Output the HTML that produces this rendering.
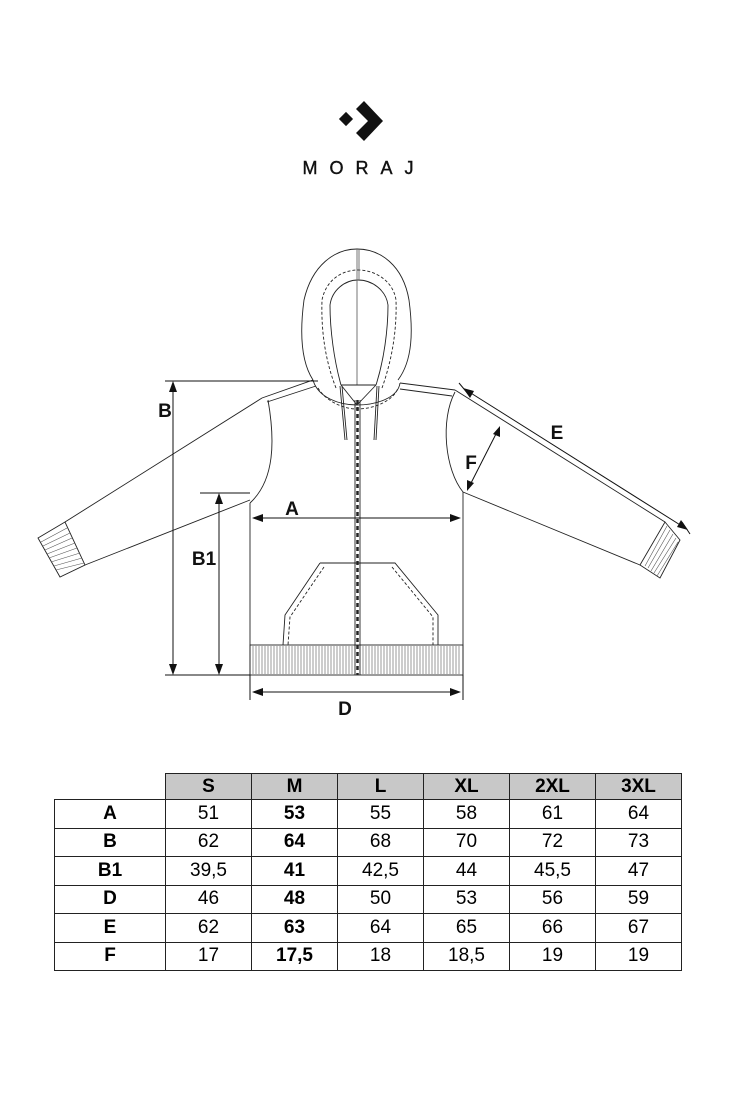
<!DOCTYPE html>
<html><head><meta charset="utf-8"><style>
html,body{margin:0;padding:0;background:#fff;}
body{width:730px;height:1095px;position:relative;font-family:"Liberation Sans",Arial,sans-serif;}
svg{position:absolute;left:0;top:0;}
table{position:absolute;left:54px;top:773px;border-collapse:collapse;font-size:19px;}
td{border:1px solid #222;text-align:center;height:27.5px;padding:0;width:85px;}
td.l{width:110px;font-weight:bold;}
tr.h td{background:#c8c8c8;font-weight:bold;height:25px;}
tr.h td.e{background:#fff;border:none;border-bottom:1px solid #222;}
td.b{font-weight:bold;}
</style></head><body>
<svg width="730" height="1095" viewBox="0 0 730 1095">
<rect x="341" y="114" width="10" height="10" transform="rotate(45 346 119)" fill="#111"/>
<polygon points="364,101 383,121 364,141 356,133 368,121 356,109" fill="#111"/>
<text x="364" y="174" text-anchor="middle" font-size="18" letter-spacing="12" font-family="Liberation Sans" fill="#111" stroke="#111" stroke-width="0.4">MORAJ</text>
<g fill="none" stroke="#222" stroke-width="0.9">
<path d="M313,380 C300,360 300,330 304,300 C312,265 335,249 357,249 C380,249 403,265 409,300 C413,330 413,360 398,380"/>
<path d="M341,385 C334,360 330,330 330,305 C332,290 345,280 358,280 C372,280 386,290 388,305 C388,330 384,360 376,385"/>
<path d="M336,388 C325,360 321,330 322,300 C326,280 342,270 358,270 C374,270 393,280 396,300 C397,330 392,360 382,388" stroke-dasharray="3,2"/>
<line x1="357" y1="249" x2="357" y2="385" stroke="#666"/>
<line x1="359" y1="249" x2="359" y2="280" stroke="#666"/>
<path d="M313,380 C318,398 340,405 357,405 C376,405 398,398 400,383"/>
<path d="M318,388 C325,400 342,409 357,409 C375,409 394,400 398,388" stroke-dasharray="3,2"/>
<line x1="341" y1="385" x2="376" y2="385"/>
<line x1="341" y1="385" x2="357" y2="405"/><line x1="376" y1="385" x2="357" y2="405"/>
<line x1="340" y1="386" x2="345" y2="440"/><line x1="342" y1="386" x2="347" y2="440"/>
<line x1="377" y1="386" x2="374" y2="440"/><line x1="379" y1="386" x2="376" y2="440"/>
<path d="M313,380 L262,398"/><path d="M316,386 L267,402"/>
<path d="M400,383 L455,390"/><path d="M400,389 L452,396"/>
<path d="M268,400 C275,440 275,480 250,503"/>
<path d="M262,398 L65,522"/>
<path d="M250,500 L85,565"/>
<polygon points="38,538 65,522 85,565 60,577"/>
<path d="M455,392 C440,420 445,470 463,492"/>
<path d="M455,390 L665,522"/>
<path d="M463,492 L640,565"/>
<polygon points="665,522 680,540 660,578 640,565"/>
<line x1="250" y1="503" x2="250" y2="675"/><line x1="463" y1="492" x2="463" y2="675"/>
<rect x="250" y="645" width="213" height="30"/>
<path d="M320,563 L285,615 L283,645"/><path d="M320,563 L395,563 L438,615 L438,645"/>
<path d="M324,567 L290,617 L288,645" stroke-dasharray="3,2"/><path d="M392,567 L433,617 L433,645" stroke-dasharray="3,2"/>
<line x1="355" y1="400" x2="355" y2="675"/><line x1="360" y1="400" x2="360" y2="675"/>
<line x1="357.5" y1="400" x2="357.5" y2="675" stroke-width="2.5" stroke-dasharray="4,3"/>
</g>
<g stroke="#555" stroke-width="0.6">
<path d="M253,646V674M256,646V674M259,646V674M262,646V674M265,646V674M268,646V674M271,646V674M274,646V674M277,646V674M280,646V674M283,646V674M286,646V674M289,646V674M292,646V674M295,646V674M298,646V674M301,646V674M304,646V674M307,646V674M310,646V674M313,646V674M316,646V674M319,646V674M322,646V674M325,646V674M328,646V674M331,646V674M334,646V674M337,646V674M340,646V674M343,646V674M346,646V674M349,646V674M352,646V674M363,646V674M366,646V674M369,646V674M372,646V674M375,646V674M378,646V674M381,646V674M384,646V674M387,646V674M390,646V674M393,646V674M396,646V674M399,646V674M402,646V674M405,646V674M408,646V674M411,646V674M414,646V674M417,646V674M420,646V674M423,646V674M426,646V674M429,646V674M432,646V674M435,646V674M438,646V674M441,646V674M444,646V674M447,646V674M450,646V674M453,646V674M456,646V674M459,646V674"/>
<path d="M41,542L67,528M43,546L70,533M45,550L72,538M47,554L75,543M49,558L77,548M51,562L80,553M54,566L82,558M56,570L84,563"/>
<path d="M667,526L645,566M670,530L648,568M673,534L651,571M676,538L654,573M678,542L657,576"/>
</g>
<g stroke="#111" stroke-width="1" fill="none">
<line x1="165" y1="381" x2="318" y2="381"/>
<line x1="165" y1="675" x2="250" y2="675"/>
<line x1="200" y1="493" x2="250" y2="493"/>
<line x1="173" y1="384" x2="173" y2="672"/>
<line x1="219" y1="496" x2="219" y2="672"/>
<line x1="255" y1="518" x2="458" y2="518"/>
<line x1="250" y1="675" x2="250" y2="700"/><line x1="463" y1="675" x2="463" y2="700"/>
<line x1="255" y1="692" x2="458" y2="692"/>
<line x1="466" y1="390" x2="685" y2="528"/>
<line x1="459" y1="383" x2="469" y2="395"/><line x1="682" y1="522" x2="690" y2="534"/>
<line x1="498" y1="430" x2="469" y2="487"/>
</g>
<g fill="#111">
<polygon points="173,381 169,392 177,392"/><polygon points="173,675 169,664 177,664"/>
<polygon points="219,493 215,504 223,504"/><polygon points="219,675 215,664 223,664"/>
<polygon points="252,518 263,514 263,522"/><polygon points="461,518 450,514 450,522"/>
<polygon points="252,692 263,688 263,696"/><polygon points="461,692 450,688 450,696"/>
<polygon points="463,388 474,391 470,398"/><polygon points="688,530 677,527 681,520"/>
<polygon points="500,426 500,437 493,434"/><polygon points="467,491 467,480 474,483"/>
</g>
<g font-family="Liberation Sans" font-weight="bold" font-size="19" fill="#111" text-anchor="middle">
<text x="165" y="417">B</text><text x="204" y="565">B1</text>
<text x="292" y="515">A</text><text x="345" y="715">D</text>
<text x="557" y="439">E</text><text x="471" y="469">F</text>
</g>
</svg>
<table>
<tr class="h"><td class="e l"></td><td>S</td><td>M</td><td>L</td><td>XL</td><td>2XL</td><td>3XL</td></tr>
<tr><td class="l">A</td><td>51</td><td class="b">53</td><td>55</td><td>58</td><td>61</td><td>64</td></tr>
<tr><td class="l">B</td><td>62</td><td class="b">64</td><td>68</td><td>70</td><td>72</td><td>73</td></tr>
<tr><td class="l">B1</td><td>39,5</td><td class="b">41</td><td>42,5</td><td>44</td><td>45,5</td><td>47</td></tr>
<tr><td class="l">D</td><td>46</td><td class="b">48</td><td>50</td><td>53</td><td>56</td><td>59</td></tr>
<tr><td class="l">E</td><td>62</td><td class="b">63</td><td>64</td><td>65</td><td>66</td><td>67</td></tr>
<tr><td class="l">F</td><td>17</td><td class="b">17,5</td><td>18</td><td>18,5</td><td>19</td><td>19</td></tr>
</table>
</body></html>
